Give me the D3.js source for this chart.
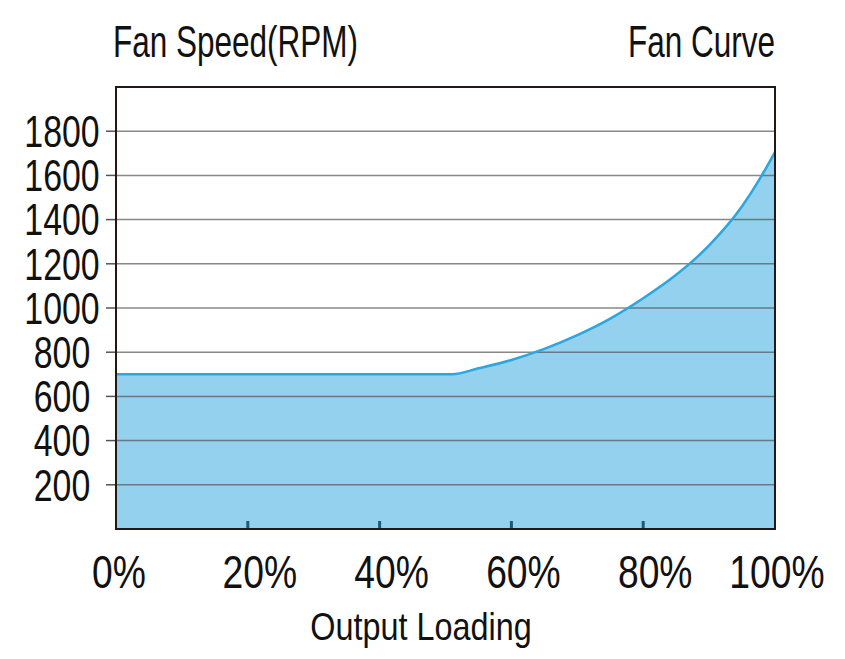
<!DOCTYPE html>
<html>
<head>
<meta charset="utf-8">
<script src="https://cdn.jsdelivr.net/npm/d3@7"></script>
<style>
	body { margin: 0; background: #fff; }
	text { font-family: "Liberation Sans", Arial, sans-serif; fill: #111; }
</style>
</head>
<body>
<svg id="chart" width="845" height="659"></svg>
<script>
const WIDTH = 845,
	  HEIGHT = 659;

// fan curve
const loading = [0, 10, 20, 30, 40, 51, 55, 60, 65, 70, 75, 80, 85, 90, 95, 97.5, 100];
const rpm = [700, 700, 700, 700, 700, 700, 727, 765, 815, 877, 952, 1044, 1150, 1283, 1460, 1575, 1706];

const yTicks = [200, 400, 600, 800, 1000, 1200, 1400, 1600, 1800];
const xTicks = [0, 20, 40, 60, 80, 100];
const xTickLabels = ["0%", "20%", "40%", "60%", "80%", "100%"];

let margin = {top: 87, right: 70, bottom: 130, left: 116};

let x = d3.scaleLinear().domain([0, 100]).range([margin.left, WIDTH - margin.right]);
let y = d3.scaleLinear().domain([0, 2000]).range([HEIGHT - margin.bottom, margin.top]);

let svg = d3.select("#chart");

let points = loading.map((d, i) => [d, rpm[i]]);

// squeeze text to look like a condensed face
function condense(sel, k) {
	sel.each(function() {
		let len = this.getComputedTextLength();
		d3.select(this).attr("textLength", len * k).attr("lengthAdjust", "spacingAndGlyphs");
	});
}

// same idea, but through a transform (keeps the box narrow near the edge)
function condensed(g, px, py, k) {
	return g.append("g")
		.attr("transform", "translate(" + px + "," + py + ") scale(" + k + ",1)")
		.append("text");
}

// filled area under the curve
svg.append("path")
	.datum(points)
	.attr("fill", "#94d1ee")
	.attr("d", d3.area()
		.x(d => x(d[0]))
		.y0(y(0))
		.y1(d => y(d[1]))
		.curve(d3.curveMonotoneX));

// grid lines
svg.append("g")
	.selectAll("line")
	.data(yTicks)
	.join("line")
		.attr("x1", x(0))
		.attr("x2", x(100))
		.attr("y1", d => y(d))
		.attr("y2", d => y(d))
		.attr("stroke", "#555")
		.attr("stroke-opacity", 0.7)
		.attr("stroke-width", 1.5);

// curve line
svg.append("path")
	.datum(points)
	.attr("fill", "none")
	.attr("stroke", "#2ba6df")
	.attr("stroke-width", 2.5)
	.attr("d", d3.line()
		.x(d => x(d[0]))
		.y(d => y(d[1]))
		.curve(d3.curveMonotoneX));

// small ticks inside bottom edge
svg.append("g")
	.selectAll("line")
	.data(xTicks.slice(1, -1))
	.join("line")
		.attr("x1", d => x(d))
		.attr("x2", d => x(d))
		.attr("y1", y(0))
		.attr("y2", y(0) - 8)
		.attr("stroke", "#1d5a7a")
		.attr("stroke-width", 3);

// y ticks outside left edge
svg.append("g")
	.selectAll("line")
	.data(yTicks)
	.join("line")
		.attr("x1", x(0) - 10)
		.attr("x2", x(0))
		.attr("y1", d => y(d))
		.attr("y2", d => y(d))
		.attr("stroke", "#555")
		.attr("stroke-width", 1.5);

// frame
svg.append("rect")
	.attr("x", x(0))
	.attr("y", y(2000))
	.attr("width", x(100) - x(0))
	.attr("height", y(0) - y(2000))
	.attr("fill", "none")
	.attr("stroke", "#231815")
	.attr("stroke-width", 2);

// y labels
svg.append("g")
	.selectAll("text")
	.data(yTicks)
	.join("text")
		.attr("x", 62)
		.attr("y", d => y(d))
		.attr("dy", "0.36em")
		.attr("text-anchor", "middle")
		.style("font-size", "44px")
		.text(d => d)
		.call(condense, 0.77);

// x labels
let xLabels = svg.append("g");
xTicks.forEach((d, i) => {
	condensed(xLabels, x(d) + (d == 0 ? 3 : d == 100 ? 2 : 12), 588, 0.81)
		.attr("text-anchor", "middle")
		.style("font-size", "46px")
		.text(xTickLabels[i]);
});

// titles
svg.append("text")
	.attr("x", 113)
	.attr("y", 57)
	.style("font-size", "45px")
	.text("Fan Speed(RPM)")
	.call(condense, 0.7);

svg.append("text")
	.attr("x", x(100))
	.attr("y", 57)
	.attr("text-anchor", "end")
	.style("font-size", "45px")
	.text("Fan Curve")
	.call(condense, 0.7);

svg.append("text")
	.attr("x", 421)
	.attr("y", 640)
	.attr("text-anchor", "middle")
	.style("font-size", "39px")
	.text("Output Loading")
	.call(condense, 0.83);
</script>
</body>
</html>
